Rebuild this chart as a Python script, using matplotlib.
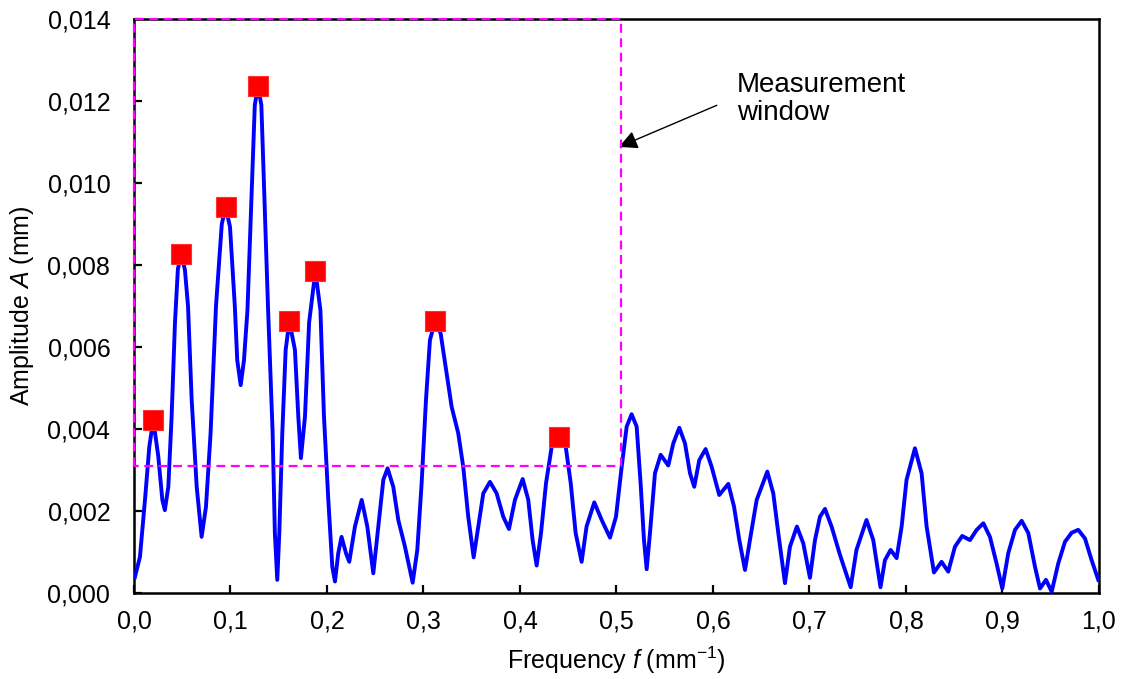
import matplotlib
matplotlib.use("Agg")
import matplotlib.pyplot as plt

plt.rcParams['font.family'] = ['Liberation Sans', 'DejaVu Sans']
plt.rcParams['mathtext.fontset'] = 'custom'
plt.rcParams['mathtext.rm'] = 'Liberation Sans'
plt.rcParams['mathtext.it'] = 'Liberation Sans:italic'
plt.rcParams['font.size'] = 18

# amplitude spectrum, frequency in 1/mm, amplitude in mm
freq = [0.001, 0.0062, 0.0114, 0.0159, 0.020, 0.0252, 0.0294, 0.032, 0.0356, 0.039,
        0.0425, 0.0455, 0.049, 0.0528, 0.0560, 0.0598, 0.0650, 0.0701, 0.0746, 0.0794,
        0.0850, 0.0910, 0.095, 0.0995, 0.1045, 0.107, 0.1106, 0.114, 0.1176, 0.1252,
        0.1285, 0.1320, 0.1390, 0.1437, 0.146, 0.1485, 0.1506, 0.1537, 0.1572, 0.161,
        0.1668, 0.1703, 0.173, 0.1772, 0.1815, 0.188, 0.1932, 0.1969, 0.2014, 0.2055,
        0.2083, 0.2117, 0.2151, 0.2197, 0.2231, 0.229, 0.236, 0.2418, 0.248, 0.2532,
        0.2584, 0.2628, 0.2687, 0.2739, 0.2808, 0.2888, 0.2936, 0.2981, 0.3026, 0.3067,
        0.312, 0.3178, 0.324, 0.3292, 0.336, 0.3412, 0.3464, 0.352, 0.3568, 0.362,
        0.3689, 0.3758, 0.3827, 0.3886, 0.3948, 0.4028, 0.4086, 0.4131, 0.4173, 0.4218,
        0.427, 0.4329, 0.440, 0.4474, 0.4526, 0.4577, 0.4639, 0.469, 0.477, 0.4847,
        0.4933, 0.4995, 0.5054, 0.5106, 0.5157, 0.5209, 0.525, 0.5285, 0.5313, 0.5347,
        0.5399, 0.5458, 0.5537, 0.5589, 0.5651, 0.571, 0.5762, 0.5806, 0.5858, 0.5924,
        0.5986, 0.6065, 0.6159, 0.6218, 0.6273, 0.6332, 0.6383, 0.6453, 0.6563, 0.6625,
        0.6677, 0.6746, 0.6798, 0.687, 0.6936, 0.7005, 0.7057, 0.7109, 0.7161, 0.7229,
        0.7316, 0.7427, 0.7487, 0.7591, 0.7661, 0.7736, 0.7782, 0.7841, 0.7903, 0.7955,
        0.8006, 0.8093, 0.8162, 0.8214, 0.829, 0.8369, 0.8438, 0.8508, 0.8583, 0.8663,
        0.8733, 0.8802, 0.887, 0.8939, 0.8998, 0.906, 0.913, 0.9199, 0.9268, 0.9337,
        0.9389, 0.9451, 0.951, 0.9578, 0.9648, 0.9717, 0.9785, 0.9855, 0.9924, 0.9993]
amp = [0.00039, 0.00088, 0.00227, 0.00357, 0.00422, 0.00333, 0.00227, 0.00202, 0.00259, 0.00430,
       0.00660, 0.00790, 0.00827, 0.00788, 0.00700, 0.00471, 0.00259, 0.00137, 0.00210, 0.00390,
       0.00700, 0.00900, 0.00941, 0.00893, 0.00700, 0.00568, 0.00507, 0.00568, 0.00690, 0.01190,
       0.01237, 0.01190, 0.00690, 0.00390, 0.00146, 0.00032, 0.00146, 0.00390, 0.00593, 0.00663,
       0.00593, 0.00430, 0.00329, 0.00430, 0.00660, 0.00785, 0.00690, 0.00430, 0.00227, 0.00064,
       0.00028, 0.00097, 0.00137, 0.00097, 0.00076, 0.00162, 0.00227, 0.00162, 0.00048, 0.00162,
       0.00276, 0.00304, 0.00259, 0.00178, 0.00113, 0.00025, 0.00105, 0.00268, 0.00471, 0.00617,
       0.00663, 0.00633, 0.00536, 0.00454, 0.00390, 0.00308, 0.00186, 0.00087, 0.00162, 0.00243,
       0.00271, 0.00243, 0.00186, 0.00156, 0.00227, 0.00278, 0.00227, 0.00129, 0.00067, 0.00146,
       0.00268, 0.00357, 0.00380, 0.00357, 0.00268, 0.00146, 0.00076, 0.00162, 0.00221, 0.00178,
       0.00135, 0.00186, 0.00308, 0.00406, 0.00436, 0.00406, 0.00268, 0.00129, 0.00058, 0.00146,
       0.00292, 0.00337, 0.00311, 0.00365, 0.00403, 0.00365, 0.00292, 0.00259, 0.00324, 0.00351,
       0.00308, 0.00239, 0.00266, 0.00211, 0.00129, 0.00056, 0.00129, 0.00227, 0.00296, 0.00243,
       0.00146, 0.00024, 0.00113, 0.00162, 0.00121, 0.00037, 0.00129, 0.00186, 0.00205, 0.00162,
       0.00093, 0.00014, 0.00105, 0.00178, 0.00129, 0.00014, 0.00080, 0.00105, 0.00085, 0.00162,
       0.00276, 0.00353, 0.00292, 0.00162, 0.00050, 0.00076, 0.00052, 0.00113, 0.00139, 0.00129,
       0.00154, 0.00170, 0.00137, 0.00072, 0.00011, 0.00097, 0.00154, 0.00176, 0.00146, 0.00064,
       0.00011, 0.00032, 0.00003, 0.00072, 0.00125, 0.00147, 0.00154, 0.00133, 0.00080, 0.00032]

# dominant peaks inside the measurement window
peak_freq = [0.020, 0.049, 0.095, 0.1285, 0.161, 0.188, 0.312, 0.440]
peak_amp = [0.00422, 0.00827, 0.00941, 0.01237, 0.00663, 0.00785, 0.00663, 0.00380]

# measurement window limits
win_f = 0.505
win_a = (0.0031, 0.014)

fig = plt.figure(figsize=(11.23, 6.79), dpi=100)
ax = fig.add_axes([0.1193, 0.1267, 0.8593, 0.8453])

ax.plot(freq, amp, color='#0000ff', lw=2.8, solid_joinstyle='round', zorder=3)
ax.plot(peak_freq, peak_amp, 's', color='#ff0000', ms=14, mec='#ff3030', mew=0.8, zorder=4)

ax.plot([0, 0, win_f, win_f, 0], [win_a[0], win_a[1], win_a[1], win_a[0], win_a[0]],
        color='#ff00ff', lw=1.6, ls=(0, (4, 2.5)), clip_on=False, zorder=5)

ax.annotate('Measurement\nwindow', xy=(0.5026, 0.01088), xytext=(0.625, 0.0127),
            ha='left', va='top', fontsize=20, linespacing=1.06,
            arrowprops=dict(arrowstyle='-|>', color='black', lw=1.0,
                            mutation_scale=28, shrinkA=0, shrinkB=0,
                            relpos=(-0.12, 0.38)))

ax.set_xlim(0, 1.0)
ax.set_ylim(0, 0.014)
ax.set_xticks([i / 10 for i in range(11)])
ax.set_yticks([i * 0.002 for i in range(8)])
ax.set_xticklabels([f'{i / 10:.1f}'.replace('.', ',') for i in range(11)])
ax.set_yticklabels([f'{i * 0.002:.3f}'.replace('.', ',') for i in range(8)])

ax.tick_params(direction='in', length=6, width=1.6, top=False, right=False)
ax.tick_params(axis='x', pad=12)
ax.tick_params(axis='y', pad=17)
for s in ax.spines.values():
    s.set_linewidth(1.8)

ax.set_xlabel(r'Frequency $\mathit{f}$ (mm$^{\mathrm{-1}}$)', labelpad=8)
ax.set_ylabel(r'Amplitude $\mathit{A}$ (mm)', labelpad=8)

fig.savefig('out.png', dpi=100)
